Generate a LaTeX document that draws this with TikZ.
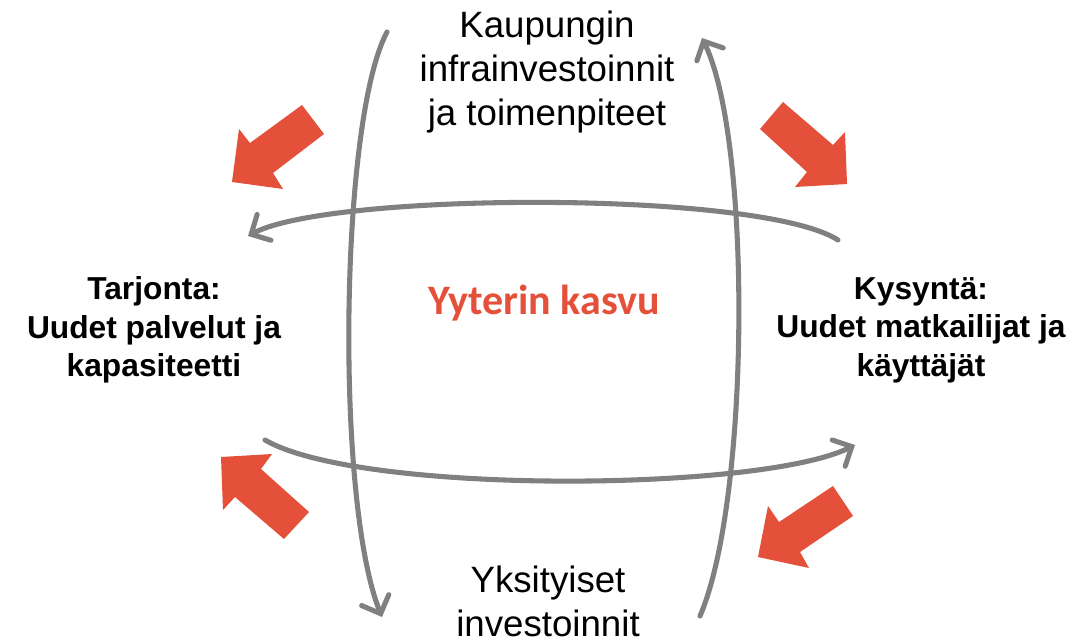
\documentclass[tikz,border=0pt]{standalone}
\usepackage{fontspec}
\setmainfont{Liberation Sans}
\newfontfamily\carlito{Carlito}
\usetikzlibrary{arrows.meta}
\definecolor{cycgray}{HTML}{808080}
\definecolor{blockred}{HTML}{E5503A}
\tikzset{
  cycle/.style={draw=cycgray, line width=3.8pt, line cap=round, -{Straight Barb[length=11pt,width=22pt,line cap=round]}},
  blockarrow/.style={fill=blockred, draw=none},
  toptext/.style={align=center, font=\fontsize{27.5}{33}\selectfont, inner sep=0pt},
  sidetext/.style={align=center, font=\fontsize{23.8}{29}\selectfont\bfseries, inner sep=0pt},
  centertext/.style={text=blockred, font=\fontsize{31.5}{36}\selectfont\carlito\bfseries, inner sep=0pt}
}
\begin{document}
\begin{tikzpicture}[x=0.75pt, y=-0.75pt]
\useasboundingbox (0,0) rectangle (1084,639);
% curves
\coordinate (lvS) at (387,32);
\coordinate (lvE) at (382,617);
\coordinate (rvS) at (700,616);
\coordinate (rvE) at (702,38);
\coordinate (thS) at (838,240);
\coordinate (thE) at (248,236);
\coordinate (bhS) at (265,440);
\coordinate (bhE) at (855,445);
\draw[cycle] (lvS) .. controls (340,120) and (335,500) .. (lvE);
\draw[cycle] (rvS) .. controls (750,500) and (752,140) .. (rvE);
\draw[cycle] (thS) .. controls (760,190) and (330,192) .. (thE);
\draw[cycle] (bhS) .. controls (360,495) and (760,492) .. (bhE);
% red block arrows
\fill[blockarrow] (302,105) -- (324,134) -- (273,173) -- (283,189) -- (232,182) -- (239,129) -- (250,143) -- cycle;
\fill[blockarrow] (783,102) -- (760,129) -- (807,172) -- (795,187) -- (847,184) -- (845,132) -- (833,145) -- cycle;
\fill[blockarrow] (309,512) -- (284,539) -- (235,497) -- (223,510) -- (221,457) -- (272,454) -- (261,469) -- cycle;
\fill[blockarrow] (833,486) -- (853,516) -- (800,552) -- (809,568) -- (758,557) -- (768,506) -- (779,522) -- cycle;
% texts
\node[toptext] (top) at (547,72) {Kaupungin\\infrainvestoinnit\\ja toimenpiteet};
\node[toptext] (bottom) at (548,601) {Yksityiset\\investoinnit};
\node[sidetext] (left) at (154,330) {Tarjonta:\\Uudet palvelut ja\\kapasiteetti};
\node[sidetext] (right) at (921,330) {Kysyntä:\\Uudet matkailijat ja\\käyttäjät};
\node[centertext] (center) at (544,303) {Yyterin kasvu};
\end{tikzpicture}
\end{document}
